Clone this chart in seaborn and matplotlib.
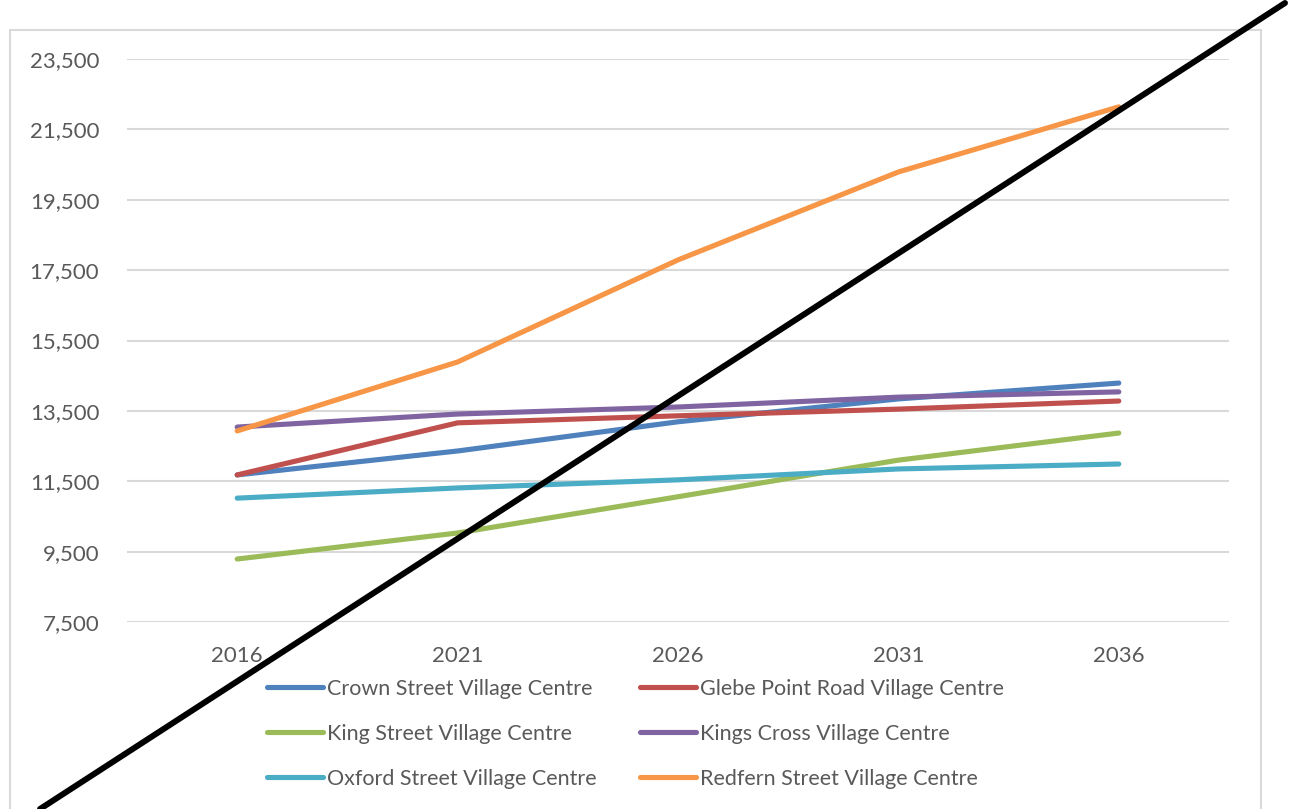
import pandas as pd
import matplotlib.pyplot as plt
import seaborn as sns
from matplotlib.patches import Rectangle
from matplotlib.lines import Line2D
from matplotlib.ticker import FuncFormatter

# Projected values by village centre
years = ['2016', '2021', '2026', '2031', '2036']
crown = [11680, 12360, 13190, 13840, 14290]
glebe = [11680, 13160, 13360, 13550, 13780]
king = [9290, 10030, 11060, 12100, 12870]
kings_cross = [13040, 13410, 13610, 13890, 14040]
oxford = [11020, 11310, 11540, 11850, 11990]
redfern = [12930, 14890, 17790, 20290, 22140]

series = {
    'Crown Street Village Centre': crown,
    'Glebe Point Road Village Centre': glebe,
    'King Street Village Centre': king,
    'Kings Cross Village Centre': kings_cross,
    'Oxford Street Village Centre': oxford,
    'Redfern Street Village Centre': redfern,
}
colors = {
    'Crown Street Village Centre': '#4F81BD',
    'Glebe Point Road Village Centre': '#C0504D',
    'King Street Village Centre': '#9BBB59',
    'Kings Cross Village Centre': '#8064A2',
    'Oxford Street Village Centre': '#4BACC6',
    'Redfern Street Village Centre': '#F79646',
}
# legend fills column-first, so order to get the 2-column layout
legend_order = ['Crown Street Village Centre', 'King Street Village Centre',
                'Oxford Street Village Centre', 'Glebe Point Road Village Centre',
                'Kings Cross Village Centre', 'Redfern Street Village Centre']

rows = []
for name, vals in series.items():
    for yr, v in zip(years, vals):
        rows.append({'Year': yr, 'Value': v, 'Centre': name})
df = pd.DataFrame(rows)

sns.set_style('white')
plt.rcParams['font.family'] = ['Lato', 'DejaVu Sans']
text_col = '#595959'

fig = plt.figure(figsize=(12.93, 8.09), dpi=100)
ax = fig.add_axes([127 / 1293, 1 - 622 / 809, 1102 / 1293, 563 / 809])

# chart frame
fig.patches.append(Rectangle((10 / 1293, -0.05), 1251 / 1293, 1 - 30 / 809 + 0.05,
                             transform=fig.transFigure, fill=False,
                             edgecolor='#d9d9d9', linewidth=1.5))

sns.lineplot(data=df, x='Year', y='Value', hue='Centre', hue_order=legend_order,
             palette=colors, linewidth=3.7, ax=ax, sort=False,
             solid_capstyle='round')

ax.set_xlim(-0.5, 4.5)
ax.set_ylim(7500, 23500)
ax.set_yticks(range(7500, 23501, 2000))
ax.yaxis.set_major_formatter(FuncFormatter(lambda v, p: f'{int(v):,}'))
ax.grid(axis='y', color='#d9d9d9', linewidth=1.5)
ax.set_axisbelow(True)
for s in ax.spines.values():
    s.set_visible(False)
ax.tick_params(axis='y', length=0, pad=20, labelsize=16, labelcolor=text_col)
ax.tick_params(axis='x', length=0, pad=17, labelsize=16, labelcolor=text_col)
ax.set_xlabel('')
ax.set_ylabel('')

handles, labels = ax.get_legend_handles_labels()
ax.get_legend().remove()
fig.legend(handles, labels, ncol=2, loc='upper left',
           bbox_to_anchor=(267 / 1293, 1 - 679 / 809), frameon=False,
           fontsize=15.5, labelcolor=text_col, handlelength=2.6,
           handletextpad=0.2, columnspacing=2.0, labelspacing=1.15,
           borderpad=0, borderaxespad=0)

# black diagonal stroke across the chart
fig.add_artist(Line2D([40 / 1293, 1285 / 1293], [0, 1 - 3 / 809],
                      transform=fig.transFigure, color='black', linewidth=4.3))

plt.savefig('out.png', dpi=100)
plt.close()
